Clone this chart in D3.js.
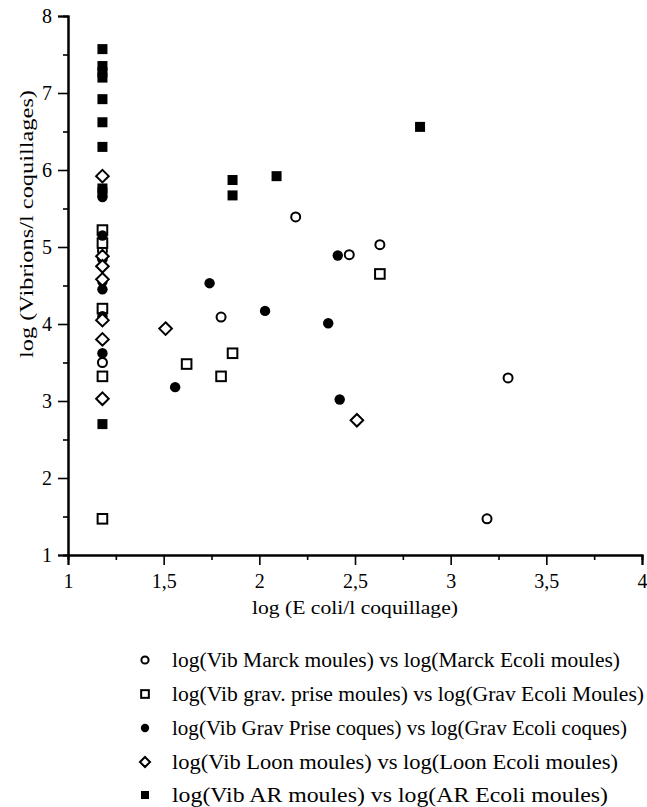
<!DOCTYPE html>
<html><head><meta charset="utf-8">
<script src="https://cdn.jsdelivr.net/npm/d3@7"></script>
<style>body{margin:0;background:#fff}</style>
</head><body>
<svg id="c" width="647" height="807"></svg>
<script>
// ---- data ----
const seriesNames = [
  "log(Vib Marck moules) vs log(Marck Ecoli moules)",
  "log(Vib grav. prise moules) vs log(Grav Ecoli Moules)",
  "log(Vib Grav Prise coques) vs log(Grav Ecoli coques)",
  "log(Vib Loon moules) vs log(Loon Ecoli moules)",
  "log(Vib AR moules) vs log(AR Ecoli moules)"
];
const marckX = [2.19, 2.47, 2.63, 1.80, 3.30, 3.19, 1.18, 1.18, 1.18];
const marckY = [5.39, 4.90, 5.03, 4.09, 3.30, 1.47, 3.50, 4.85, 4.95];
const gravMoulesX = [2.63, 1.62, 1.86, 1.80, 1.18, 1.18, 1.18, 1.18, 1.18];
const gravMoulesY = [4.65, 3.48, 3.62, 3.32, 5.22, 5.05, 4.20, 3.32, 1.47];
const gravCoquesX = [1.74, 2.03, 2.36, 2.41, 1.56, 2.42, 1.18, 1.18, 1.18, 1.18, 1.18, 1.18, 1.18];
const gravCoquesY = [4.53, 4.17, 4.01, 4.89, 3.18, 3.02, 5.65, 5.15, 4.55, 4.45, 4.10, 3.62, 3.03];
const loonX = [1.51, 2.51, 1.18, 1.18, 1.18, 1.18, 1.18, 1.18, 1.18];
const loonY = [3.94, 2.75, 5.92, 4.88, 4.75, 4.58, 4.05, 3.80, 3.03];
const arX = [1.86, 1.86, 2.09, 2.84, 1.18, 1.18, 1.18, 1.18, 1.18, 1.18, 1.18, 1.18, 1.18, 1.18];
const arY = [5.87, 5.67, 5.92, 6.56, 7.57, 7.35, 7.27, 7.20, 6.92, 6.62, 6.30, 5.76, 5.71, 2.70];
const xTickValues = [1, 1.5, 2, 2.5, 3, 3.5, 4];
const xTickLabels = ["1", "1,5", "2", "2,5", "3", "3,5", "4"];
const yTickValues = [1, 2, 3, 4, 5, 6, 7, 8];
const yTickLabels = ["1", "2", "3", "4", "5", "6", "7", "8"];

// ---- layout ----
const svg = d3.select("#c");
const X0 = 68, X1 = 642, Y0 = 555, Y1 = 16;
const x = d3.scaleLinear().domain([1, 4]).range([X0, X1]);
const y = d3.scaleLinear().domain([1, 8]).range([Y0, Y1]);
const serif = "'Liberation Serif', 'DejaVu Serif', serif";
const legendTextWidth = [448, 472, 455, 446, 436];

// minor ticks
const gx = svg.append("g").attr("transform", `translate(0,${Y0})`);
gx.call(d3.axisBottom(x).tickValues(d3.range(1.25, 4, 0.5)).tickSize(5).tickFormat(""));
gx.append("g").call(d3.axisBottom(x).tickValues(xTickValues).tickSize(10)
  .tickFormat((d, i) => xTickLabels[i]));
const gy = svg.append("g").attr("transform", `translate(${X0},0)`);
gy.call(d3.axisLeft(y).tickValues(d3.range(1.5, 8, 1)).tickSize(5).tickFormat(""));
gy.append("g").call(d3.axisLeft(y).tickValues(yTickValues).tickSize(10)
  .tickFormat((d, i) => yTickLabels[i]));
svg.selectAll(".domain").attr("stroke", "#000").attr("stroke-width", 2);
svg.selectAll(".tick line").attr("stroke", "#000").attr("stroke-width", 1.6);
svg.selectAll(".tick text").attr("font-family", serif).attr("font-size", 20).attr("fill", "#000");
gx.selectAll(".tick text").attr("dy", "1.0em");
gy.selectAll(".tick text").attr("dx", "-0.15em");

// axis titles
svg.append("text").attr("x", (X0 + X1) / 2).attr("y", 614).attr("text-anchor", "middle")
  .attr("font-family", serif).attr("font-size", 19).attr("textLength", 206).attr("lengthAdjust", "spacingAndGlyphs")
  .text("log (E coli/l  coquillage)");
svg.append("text").attr("transform", "translate(33,224) rotate(-90)").attr("text-anchor", "middle")
  .attr("font-family", serif).attr("font-size", 19).attr("textLength", 268).attr("lengthAdjust", "spacingAndGlyphs")
  .text("log (Vibrions/l coquillages)");

// ---- markers ----
function drawMarker(g, type, cx, cy, s) {
  if (type === 0) g.append("circle").attr("cx", cx).attr("cy", cy).attr("r", 4.5 * s)
    .attr("fill", "#fff").attr("stroke", "#000").attr("stroke-width", 2);
  else if (type === 1) g.append("rect").attr("x", cx - 4.8 * s).attr("y", cy - 4.8 * s)
    .attr("width", 9.6 * s).attr("height", 9.6 * s).attr("fill", "#fff").attr("stroke", "#000").attr("stroke-width", 2);
  else if (type === 2) g.append("circle").attr("cx", cx).attr("cy", cy).attr("r", 5.2 * s).attr("fill", "#000");
  else if (type === 3) g.append("path").attr("d",
    `M${cx},${cy - 6.3 * s}L${cx + 6.3 * s},${cy}L${cx},${cy + 6.3 * s}L${cx - 6.3 * s},${cy}Z`)
    .attr("fill", "#fff").attr("stroke", "#000").attr("stroke-width", 2);
  else g.append("rect").attr("x", cx - 5 * s).attr("y", cy - 5 * s)
    .attr("width", 10 * s).attr("height", 10 * s).attr("fill", "#000");
}
const seriesXY = [[marckX, marckY], [gravMoulesX, gravMoulesY], [gravCoquesX, gravCoquesY], [loonX, loonY], [arX, arY]];
const pts = svg.append("g");
seriesXY.forEach(([xs, ys], k) => {
  xs.forEach((v, i) => drawMarker(pts, k, x(v), y(ys[i]), 1));
});

// ---- legend ----
const leg = svg.append("g");
const legY = [660, 694, 728, 762, 795];
seriesNames.forEach((n, k) => {
  drawMarker(leg, k, 145, legY[k], 0.8);
  leg.append("text").attr("x", 172).attr("y", legY[k]).attr("dy", "0.35em")
    .attr("font-family", serif).attr("font-size", 20)
    .attr("textLength", legendTextWidth[k]).attr("lengthAdjust", "spacingAndGlyphs").text(n);
});
</script>
</body></html>
